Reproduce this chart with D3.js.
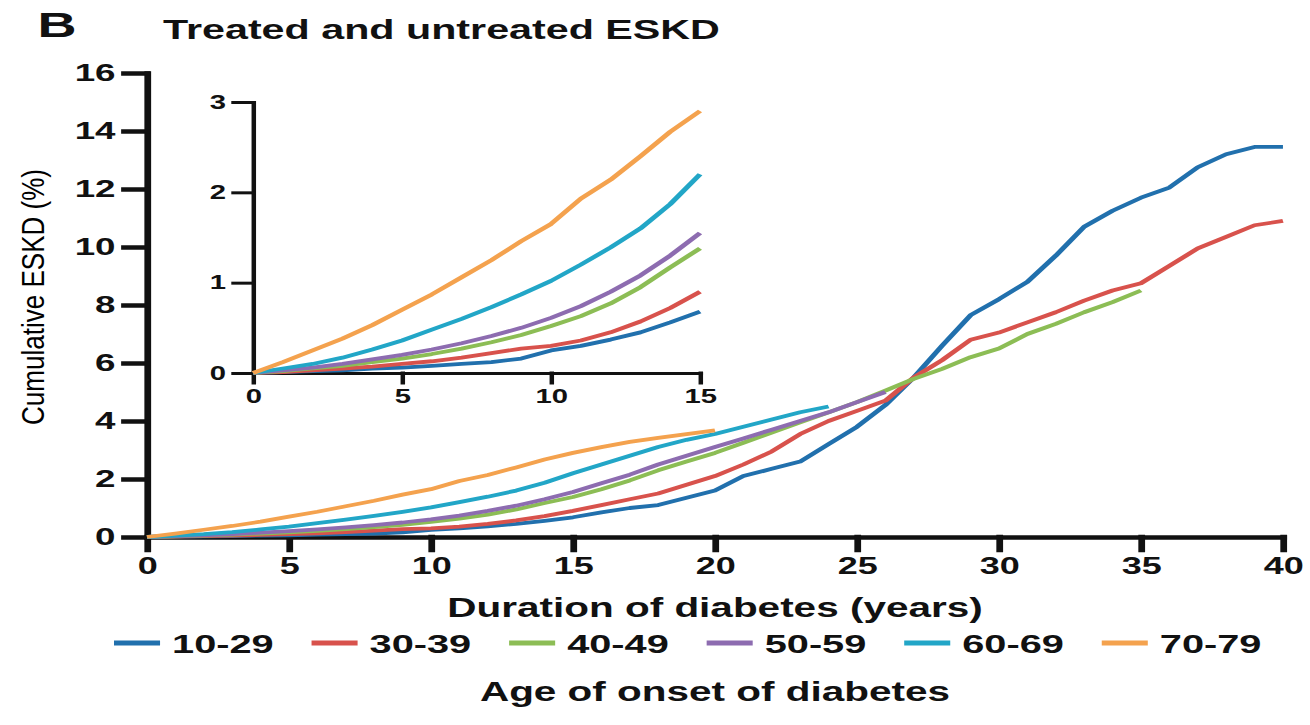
<!DOCTYPE html>
<html>
<head>
<meta charset="utf-8">
<script src="https://cdn.jsdelivr.net/npm/d3@7/dist/d3.min.js"></script>
<style>
    body { margin: 0; background: #fff; }
    text { font-family: "Liberation Sans", Arial, sans-serif; fill: #111; }
</style>
</head>
<body>
<div id="chart-area"></div>
<script>
// Data
var years = [0,1,2,3,4,5,6,7,8,9,10,11,12,13,14,15,16,17,18,19,20,
             21,22,23,24,25,26,27,28,29,30,31,32,33,34,35,36,37,38,39,40];

var groups = ["10-29", "30-39", "40-49", "50-59", "60-69", "70-79"];
var colors = ["#2170ad", "#d8524c", "#8cbd55", "#8d6cb0", "#22a6c7", "#f4a24e"];

var eskd1029 = [0,0.01,0.02,0.03,0.05,0.06,0.08,0.1,0.12,0.16,0.25,0.3,0.37,0.45,0.56,0.68,
                0.85,1.0,1.1,1.35,1.6,2.1,2.35,2.6,3.2,3.8,4.55,5.5,6.6,7.65,8.2,8.8,9.7,10.7,
                11.25,11.7,12.05,12.75,13.2,13.45,13.45];
var eskd3039 = [0,0.01,0.03,0.05,0.07,0.1,0.13,0.17,0.22,0.27,0.3,0.36,0.45,0.57,0.72,0.9,
                1.1,1.3,1.5,1.8,2.1,2.5,2.95,3.55,4.0,4.35,4.7,5.5,6.1,6.8,7.05,7.4,7.75,8.15,
                8.5,8.75,9.35,9.95,10.35,10.75,10.9];
var eskd4049 = [0,0.02,0.05,0.08,0.12,0.16,0.21,0.27,0.34,0.42,0.52,0.63,0.77,0.95,1.17,1.38,
                1.65,1.95,2.3,2.6,2.9,3.25,3.6,3.95,4.3,4.65,5.05,5.45,5.8,6.2,6.5,7.0,7.35,
                7.75,8.1,8.5];
var eskd5059 = [0,0.03,0.06,0.1,0.15,0.2,0.26,0.33,0.41,0.5,0.61,0.74,0.9,1.08,1.3,1.55,
                1.85,2.15,2.5,2.8,3.1,3.4,3.7,4.0,4.3,4.65,5.0];
var eskd6069 = [0,0.05,0.1,0.17,0.26,0.36,0.48,0.6,0.73,0.87,1.02,1.2,1.39,1.6,1.87,2.2,
                2.5,2.8,3.1,3.35,3.55,3.8,4.05,4.3,4.5];
var eskd7079 = [0,0.12,0.25,0.38,0.53,0.7,0.87,1.06,1.25,1.46,1.65,1.93,2.14,2.4,2.67,2.9,
                3.1,3.28,3.42,3.55,3.68];

var seriesValues = [eskd1029, eskd3039, eskd4049, eskd5059, eskd6069, eskd7079];

var xTicksMain = [0,5,10,15,20,25,30,35,40];
var yTicksMain = [0,2,4,6,8,10,12,14,16];
var xTicksInset = [0,5,10,15];
var yTicksInset = [0,1,2,3];

// the reference is stretched sideways, so everything is drawn in a narrower
// frame and scaled horizontally
var stretch = 1.5;

var svg = d3.select("#chart-area")
    .append("svg")
        .attr("width", 1310)
        .attr("height", 725);

var g = svg.append("g")
    .attr("transform", "scale(" + stretch + ",1)");

// Scales
var x = d3.scaleLinear().domain([0, 40]).range([98, 855.3]);
var y = d3.scaleLinear().domain([0, 16]).range([537, 73]);

var xIn = d3.scaleLinear().domain([0, 15]).range([168.7, 466.7]);
var yIn = d3.scaleLinear().domain([0, 3]).range([373, 102]);

function series(i, maxYear) {
    return seriesValues[i]
        .map(function(v, k){ return { year: years[k], value: v }; })
        .filter(function(d){ return d.year <= maxYear; });
}

function styleAxis(sel, width, size) {
    sel.attr("font-family", "'Liberation Sans', Arial, sans-serif")
        .attr("font-size", size)
        .attr("font-weight", "bold");
    sel.selectAll("path, line")
        .attr("stroke", "#111")
        .attr("stroke-width", width)
        .attr("stroke-linecap", "square");
    sel.selectAll("text").attr("fill", "#111");
}

// Panel letter + title
g.append("text")
    .attr("x", 25)
    .attr("y", 37)
    .attr("font-size", "36px")
    .attr("font-weight", "bold")
    .text("B");

g.append("text")
    .attr("x", 108.7)
    .attr("y", 39)
    .attr("font-size", "27.5px")
    .attr("font-weight", "bold")
    .text("Treated and untreated ESKD");

// Main axes
var xAxisCall = d3.axisBottom(x)
    .tickValues(xTicksMain)
    .tickSize(13)
    .tickSizeOuter(0)
    .tickPadding(7);
var xAxisGroup = g.append("g")
    .attr("transform", "translate(0," + y(0) + ")")
    .call(xAxisCall);
styleAxis(xAxisGroup, 4.5, 24);

var yAxisCall = d3.axisLeft(y)
    .tickValues(yTicksMain)
    .tickSize(15)
    .tickSizeOuter(0)
    .tickPadding(6);
var yAxisGroup = g.append("g")
    .attr("transform", "translate(" + x(0) + ",0)")
    .call(yAxisCall);
styleAxis(yAxisGroup, 4.5, 24.5);

// Y Label
g.append("text")
    .attr("transform", "translate(29.5," + ((y(0) + y(16)) / 2 - 8) + ") rotate(-90) scale(1.27,1)")
    .attr("text-anchor", "middle")
    .attr("font-size", "20.5px")
    .style("fill", "#000")
    .text("Cumulative ESKD (%)");

// X Label
g.append("text")
    .attr("x", (x(0) + x(40)) / 2)
    .attr("y", 617)
    .attr("text-anchor", "middle")
    .attr("font-size", "27px")
    .attr("font-weight", "bold")
    .text("Duration of diabetes (years)");

// Main lines
var line = d3.line()
    .x(function(d){ return x(d.year); })
    .y(function(d){ return y(d.value); });

groups.forEach(function(grp, i) {
    g.append("path")
        .datum(series(i, 40))
        .attr("fill", "none")
        .attr("stroke", colors[i])
        .attr("stroke-width", 3.8)
        .attr("stroke-linejoin", "round")
        .attr("d", line);
});

// Inset axes
var xInAxisCall = d3.axisBottom(xIn)
    .tickValues(xTicksInset)
    .tickFormat(d3.format("d"))
    .tickSize(10)
    .tickSizeOuter(0)
    .tickPadding(6);
var xInGroup = g.append("g")
    .attr("transform", "translate(0," + yIn(0) + ")")
    .call(xInAxisCall);
styleAxis(xInGroup, 3, 19.5);

var yInAxisCall = d3.axisLeft(yIn)
    .tickValues(yTicksInset)
    .tickFormat(d3.format("d"))
    .tickSize(13)
    .tickSizeOuter(0)
    .tickPadding(5);
var yInGroup = g.append("g")
    .attr("transform", "translate(" + xIn(0) + ",0)")
    .call(yInAxisCall);
styleAxis(yInGroup, 3, 19.5);

// Inset lines
var lineIn = d3.line()
    .x(function(d){ return xIn(d.year); })
    .y(function(d){ return yIn(d.value); });

groups.forEach(function(grp, i) {
    g.append("path")
        .datum(series(i, 15))
        .attr("fill", "none")
        .attr("stroke", colors[i])
        .attr("stroke-width", 3.8)
        .attr("stroke-linejoin", "round")
        .attr("d", lineIn);
});

// Legend
var legendX = d3.scaleBand()
    .domain(groups)
    .range([76, 76 + 131.7 * groups.length]);

var legend = g.selectAll(".legend")
    .data(groups)
    .enter()
    .append("g")
        .attr("class", "legend")
        .attr("transform", function(d){ return "translate(" + legendX(d) + ",643)"; });

legend.append("line")
    .attr("x1", 0)
    .attr("x2", 30.7)
    .attr("stroke", function(d, i){ return colors[i]; })
    .attr("stroke-width", 5);

legend.append("text")
    .attr("x", 38.7)
    .attr("y", 9.5)
    .attr("font-size", "26.5px")
    .attr("font-weight", "bold")
    .text(function(d){ return d; });

g.append("text")
    .attr("x", (x(0) + x(40)) / 2)
    .attr("y", 701)
    .attr("text-anchor", "middle")
    .attr("font-size", "27px")
    .attr("font-weight", "bold")
    .text("Age of onset of diabetes");
</script>
</body>
</html>
